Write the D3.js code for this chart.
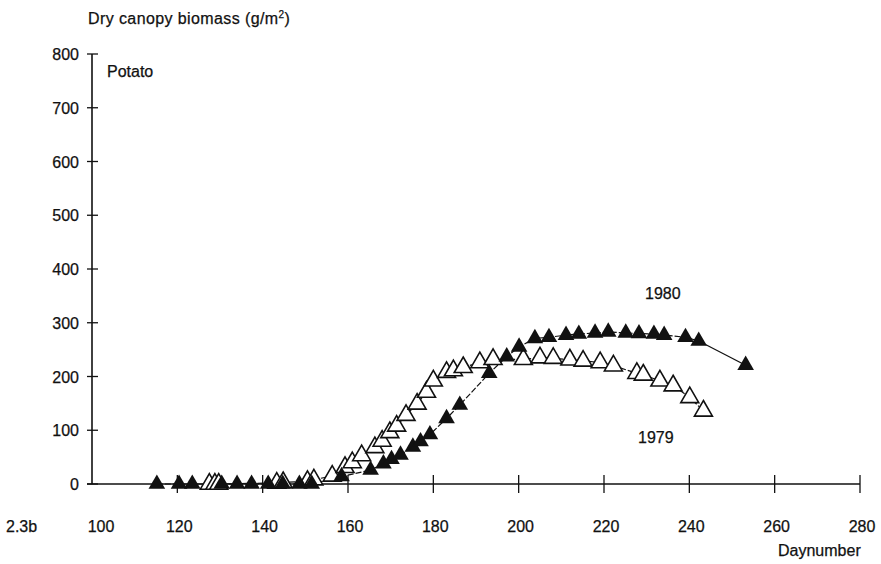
<!DOCTYPE html>
<html>
<head>
<meta charset="utf-8">
<script src="https://cdn.jsdelivr.net/npm/d3@7"></script>
<style>
  body { margin: 0; background: #fff; }
  svg text { font-family: "Liberation Sans", Arial, sans-serif; fill: #111; font-size: 16px; stroke: #111; stroke-width: 0.25px; }
</style>
</head>
<body>
<div class="chart-container"></div>
<script>
// values: [daynumber, g/m2]
const days1979 = [127.5, 128.8, 129.7, 143.3, 144.8, 150.5, 152, 156.3, 159.3, 161, 163.2, 166.3, 168, 169.8, 171.4, 173.6, 176.2, 178.4, 180, 183.1, 184.7, 187, 190.9, 194, 201.1, 205, 208.1, 212, 215.1, 219.1, 222.2, 227.7, 229.2, 233.1, 236.2, 240.1, 243.3];
const mass1979 = [0, 0, 0, 2, 3, 5, 8, 15, 31, 40, 53, 68, 80, 96, 108, 128, 149, 171, 192, 208, 211, 217, 226, 232, 232, 235, 234, 231, 229, 226, 220, 206, 203, 192, 183, 161, 136];
const days1980 = [115.2, 120.4, 123.5, 130.4, 134, 137.4, 141.3, 144.7, 148.6, 151.5, 158.5, 165.3, 168.3, 170.2, 172.3, 175.2, 177, 179.2, 183.1, 186.2, 193.1, 197.2, 200.1, 203.8, 207.1, 211.1, 214.1, 217.9, 221, 225.1, 228.2, 231.7, 234.1, 239.1, 242.2, 253.2];
const mass1980 = [0, 0, 0, 0, 0, 0, 0, 0, 0, 0, 14, 26, 38, 46, 54, 69, 79, 92, 122, 147, 206, 237, 255, 271, 273, 277, 279, 281, 283, 281, 280, 279, 277, 273, 266, 221];
const xTicks = [100, 120, 140, 160, 180, 200, 220, 240, 260, 280];
const yTicks = [0, 100, 200, 300, 400, 500, 600, 700, 800];

const series1979 = days1979.map((d, i) => ({day: d, mass: mass1979[i]}));
const series1980 = days1980.map((d, i) => ({day: d, mass: mass1980[i]}));

const svg_width = 881, svg_height = 564;
const margin = {top: 54, right: 21, bottom: 80, left: 92};
const chart_width = svg_width - margin.left - margin.right;
const chart_height = svg_height - margin.top - margin.bottom;

const svg = d3.select('.chart-container').append('svg')
  .attr('width', svg_width).attr('height', svg_height);
const g = svg.append('g').attr('transform', `translate(${margin.left},${margin.top})`);

const xScale = d3.scaleLinear([100, 280], [0, chart_width]);
const yScale = d3.scaleLinear([0, 800], [chart_height, 0]);

// y axis: ticks cross the line
const yAxis = g.append('g').attr('class', 'y axis');
yAxis.append('line').attr('x1', 0).attr('x2', 0)
  .attr('y1', yScale(800)).attr('y2', yScale(0))
  .attr('stroke', '#111').attr('stroke-width', 1.6);
yAxis.selectAll('.ytick').data(yTicks).enter().append('line')
  .attr('x1', -5).attr('x2', 6)
  .attr('y1', d => yScale(d)).attr('y2', d => yScale(d))
  .attr('stroke', '#111').attr('stroke-width', 1.3);
yAxis.selectAll('.ylabel').data(yTicks).enter().append('text')
  .attr('x', -13).attr('y', d => yScale(d) + 6)
  .attr('text-anchor', 'end')
  .text(d => d);

// x axis along zero
const xAxis = g.append('g').attr('class', 'x axis');
xAxis.append('line').attr('x1', -5).attr('x2', xScale(280))
  .attr('y1', yScale(0)).attr('y2', yScale(0))
  .attr('stroke', '#111').attr('stroke-width', 1.6);
xAxis.selectAll('.xtick').data(xTicks.slice(1)).enter().append('line')
  .attr('x1', d => xScale(d)).attr('x2', d => xScale(d))
  .attr('y1', yScale(0) - 9).attr('y2', yScale(0) + 9)
  .attr('stroke', '#111').attr('stroke-width', 1.3);
xAxis.selectAll('.xlabel').data(xTicks).enter().append('text')
  .attr('x', d => xScale(d) + (d === 100 ? 9 : 2)).attr('y', yScale(0) + 48)
  .attr('text-anchor', 'middle')
  .text(d => d);

// connecting lines
const line = d3.line().x(d => xScale(d.day)).y(d => yScale(d.mass));
g.append('path').datum(series1979).attr('d', line)
  .attr('fill', 'none').attr('stroke', '#111').attr('stroke-width', 1.2)
  .attr('stroke-dasharray', '6,2');
g.append('path').datum(series1980.slice(0, -1)).attr('d', line)
  .attr('fill', 'none').attr('stroke', '#111').attr('stroke-width', 1.2)
  .attr('stroke-dasharray', '6,2');
g.append('path').datum(series1980.slice(-2)).attr('d', line)
  .attr('fill', 'none').attr('stroke', '#111').attr('stroke-width', 1.3);

// markers
const openTri = d3.symbol().type(d3.symbolTriangle).size(140);
const fillTri = d3.symbol().type(d3.symbolTriangle).size(120);
g.selectAll('.open').data(series1979).enter().append('path')
  .attr('class', 'open')
  .attr('transform', d => `translate(${xScale(d.day)},${yScale(d.mass)})`)
  .attr('d', openTri)
  .attr('fill', '#fff').attr('stroke', '#111').attr('stroke-width', 1.6);
g.selectAll('.filled').data(series1980).enter().append('path')
  .attr('class', 'filled')
  .attr('transform', d => `translate(${xScale(d.day)},${yScale(d.mass)})`)
  .attr('d', fillTri)
  .attr('fill', '#111');

// texts
svg.append('text').attr('x', 88).attr('y', 24).style('letter-spacing', '0.4px')
  .html('Dry canopy biomass (g/m<tspan dy="-6" style="font-size:10px">2</tspan><tspan dy="6">)</tspan>');
svg.append('text').attr('x', 107).attr('y', 77).text('Potato');
svg.append('text').attr('x', 645).attr('y', 299).text('1980');
svg.append('text').attr('x', 638).attr('y', 443).text('1979');
svg.append('text').attr('x', 6).attr('y', 532).text('2.3b');
svg.append('text').attr('x', 778).attr('y', 556).text('Daynumber');
</script>
</body>
</html>
